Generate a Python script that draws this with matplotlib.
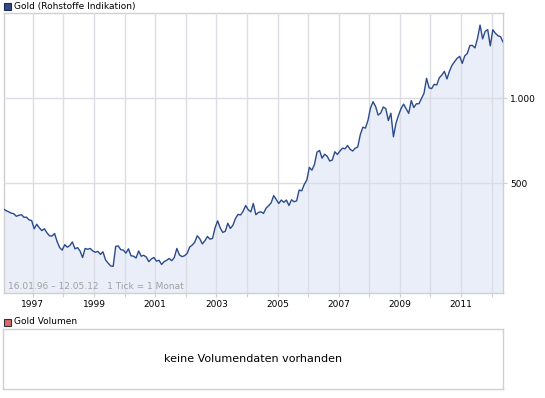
import matplotlib
matplotlib.use("Agg")
import matplotlib.pyplot as plt
import matplotlib.ticker as mticker
from matplotlib.patches import Rectangle
import numpy as np

# Monthly gold prices (USD/oz), Jan 1996 .. May 2012
p1996 = [405, 400, 396, 392, 390, 382, 385, 387, 379, 379, 371, 369]
p1997 = [345, 358, 348, 340, 345, 334, 326, 325, 332, 311, 296, 290]
p1998 = [303, 297, 301, 310, 293, 296, 288, 273, 294, 292, 294, 288]
p1999 = [285, 287, 280, 286, 268, 261, 255, 254, 299, 300, 291, 290]
p2000 = [283, 293, 277, 276, 272, 288, 276, 278, 274, 264, 270, 273]
p2001 = [265, 267, 258, 264, 267, 271, 266, 273, 294, 279, 275, 277]
p2002 = [282, 297, 302, 309, 326, 318, 305, 313, 324, 317, 319, 348]
p2003 = [368, 348, 335, 338, 361, 346, 355, 375, 388, 386, 398, 417]
p2004 = [403, 396, 424, 387, 394, 396, 391, 408, 416, 426, 452, 438]
p2005 = [424, 436, 428, 436, 417, 437, 430, 433, 473, 470, 495, 513]
p2006 = [569, 556, 582, 644, 653, 613, 633, 623, 599, 604, 646, 632]
p2007 = [650, 665, 662, 680, 659, 650, 665, 672, 743, 789, 783, 834]
p2008 = [923, 971, 934, 871, 885, 930, 918, 833, 884, 730, 815, 870]
p2009 = [919, 952, 917, 883, 980, 926, 955, 955, 996, 1040, 1175, 1087]
p2010 = [1081, 1119, 1113, 1180, 1207, 1244, 1169, 1246, 1307, 1346, 1383, 1405]
p2011 = [1327, 1411, 1439, 1535, 1536, 1505, 1628, 1813, 1620, 1722, 1746, 1531]
p2012 = [1744, 1697, 1662, 1651, 1580]

prices = (p1996 + p1997 + p1998 + p1999 + p2000 + p2001 + p2002 + p2003 + p2004
          + p2005 + p2006 + p2007 + p2008 + p2009 + p2010 + p2011 + p2012)
x_years = 1996 + (np.arange(len(prices)) + 0.5) / 12.0

year_ticks = list(range(1997, 2013))
year_labels = [str(y) if y % 2 == 1 else "" for y in year_ticks]
y_ticks = [500, 1000]
y_labels = ["500", "1.000"]

title_main = "Gold (Rohstoffe Indikation)"
title_vol = "Gold Volumen"
range_text = "16.01.96 \u2013 12.05.12   1 Tick = 1 Monat"
no_vol_text = "keine Volumendaten vorhanden"

W, H = 545, 398
fig = plt.figure(figsize=(W / 100, H / 100), dpi=100)
fig.patch.set_facecolor("white")

def fx(px):
    return px / W

def fy(py):
    return 1 - py / H

line_c = "#2b4a8c"
fill_c = "#e9eef9"
grid_c = "#dcdce4"
frame_c = "#d0d0d0"

# main axes
ax = fig.add_axes([fx(3.6), fy(293), fx(503) - fx(3.6), fy(13) - fy(293)])
ax.set_yscale("log")
ax.set_xlim(1996 + 0.5 / 12, 1996 + (len(prices) - 0.5) / 12)
ax.set_ylim(204.5, 2000)
ax.fill_between(x_years, prices, 100, color=fill_c, lw=0, zorder=1)
ax.plot(x_years, prices, color=line_c, lw=1.0, zorder=3)

ax.set_xticks(year_ticks)
ax.set_xticklabels(year_labels)
ax.yaxis.set_major_locator(mticker.FixedLocator(y_ticks))
ax.yaxis.set_minor_locator(mticker.NullLocator())
ax.set_yticklabels(y_labels)
ax.yaxis.tick_right()
ax.grid(True, color=grid_c, lw=1.0, zorder=2)
ax.set_axisbelow(False)
for sp in ax.spines.values():
    sp.set_color(frame_c)
    sp.set_linewidth(1.0)
ax.tick_params(axis="x", length=3, color=frame_c, labelsize=6.5, pad=2, labelcolor="black")
ax.tick_params(axis="y", length=3, color=frame_c, labelsize=6.5, pad=2, labelcolor="black")
for lab in ax.get_yticklabels():
    lab.set_horizontalalignment("left")

ax.text(fx(8), fy(286.5), range_text, transform=fig.transFigure, fontsize=6.5,
        color="#a0a0a0", va="center", ha="left", zorder=5)

# main legend
fig.patches.append(Rectangle((fx(4), fy(10)), fx(7), fy(3) - fy(10), transform=fig.transFigure,
                             facecolor="#2e4c8a", edgecolor="#1a2a50", lw=0.8))
fig.text(fx(14), fy(6.5), title_main, fontsize=6.5, va="center", ha="left")

# volume legend
fig.patches.append(Rectangle((fx(3.5), fy(325.5)), fx(7), fy(318.5) - fy(325.5), transform=fig.transFigure,
                             facecolor="#d96a6a", edgecolor="#333333", lw=0.8))
fig.text(fx(14), fy(322), title_vol, fontsize=6.5, va="center", ha="left")

# volume axes
axv = fig.add_axes([fx(3), fy(389), fx(503) - fx(3), fy(329) - fy(389)])
axv.set_xticks([])
axv.set_yticks([])
for sp in axv.spines.values():
    sp.set_color(frame_c)
    sp.set_linewidth(1.0)
axv.text(0.5, 0.5, no_vol_text, transform=axv.transAxes, fontsize=8, ha="center", va="center")

fig.savefig("out.png", dpi=100)
